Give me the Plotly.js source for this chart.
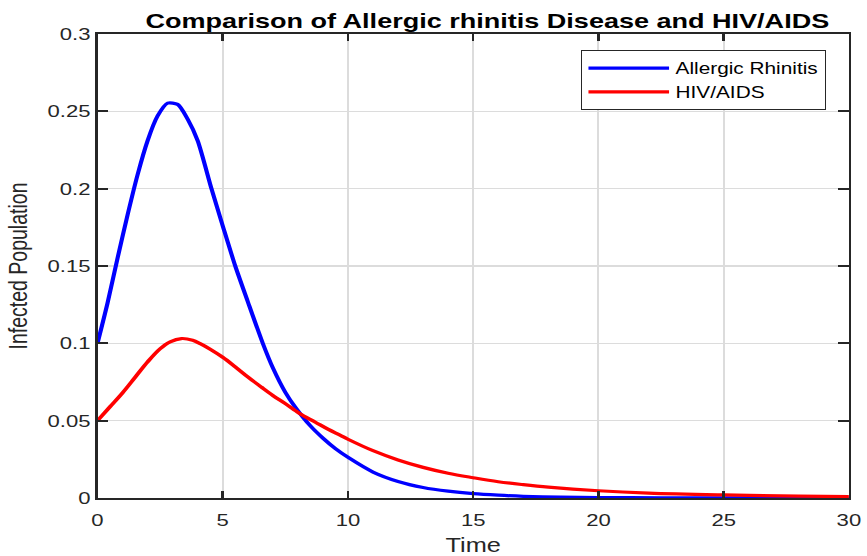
<!DOCTYPE html>
<html>
<head>
<meta charset="utf-8">
<script src="https://cdn.plot.ly/plotly-3.0.1.min.js"></script>
<style>
html, body { margin: 0; padding: 0; background: #ffffff; overflow: hidden; }
#wrap { width: 867px; height: 556px; overflow: hidden; position: relative; }
#chart { width: 667px; height: 556px; transform: scaleX(1.3); transform-origin: 0 0; }
</style>
</head>
<body>
<div id="wrap"><div id="chart"></div></div>
<script>
// Allergic Rhinitis
const blueT = [0, 0.4, 0.8, 1.2, 1.6, 2.0, 2.4, 2.8, 3.2, 3.6, 4.0, 4.55, 5.0, 5.5, 6.0, 6.6, 7.0, 7.5, 7.9, 8.5, 9, 9.5, 10, 11, 12, 13, 14, 15, 16, 17, 18.5, 20, 22.5, 25, 30];
const blueY = [0.1, 0.126, 0.155, 0.183, 0.209, 0.231, 0.247, 0.2553, 0.2545, 0.245, 0.231, 0.2, 0.176, 0.15, 0.127, 0.1, 0.0842, 0.0683, 0.0586, 0.0466, 0.0387, 0.0319, 0.0263, 0.0168, 0.0107, 0.0068, 0.0044, 0.0028, 0.0018, 0.0011, 0.0006, 0.0003, 0.00012, 0.00005, 0];
// HIV/AIDS
const redT = [0, 0.5, 1.0, 1.5, 2.0, 2.5, 2.9, 3.35, 3.8, 4.1, 4.5, 5, 5.5, 6, 6.55, 7, 7.5, 7.9, 8.1, 8.7, 9.2, 9.7, 10, 11, 12, 13, 14, 15, 16, 17, 18, 20, 22, 25, 28, 30];
const redY = [0.05, 0.059, 0.068, 0.078, 0.088, 0.0965, 0.101, 0.1031, 0.102, 0.0998, 0.0962, 0.091, 0.0848, 0.0783, 0.0716, 0.0663, 0.061, 0.0565, 0.0543, 0.049, 0.0445, 0.0405, 0.038, 0.0306, 0.0246, 0.0198, 0.016, 0.0131, 0.0105, 0.0086, 0.007, 0.0047, 0.0032, 0.002, 0.0012, 0.0009];

const seriesNames = ['Allergic Rhinitis', 'HIV/AIDS'];
const xTickVals = [0, 5, 10, 15, 20, 25, 30];
const xTickText = ['0', '5', '10', '15', '20', '25', '30'];
const yTickVals = [0, 0.05, 0.1, 0.15, 0.2, 0.25, 0.3];
const yTickText = ['0', '0.05', '0.1', '0.15', '0.2', '0.25', '0.3'];

const FONT = '"Liberation Sans", Arial, Helvetica, sans-serif';
const AX = '#262626';

const traces = [
  { x: blueT, y: blueY, name: seriesNames[0], type: 'scatter', mode: 'lines',
    line: { color: '#0000ff', width: 3.2, shape: 'spline', smoothing: 0.7 } },
  { x: redT, y: redY, name: seriesNames[1], type: 'scatter', mode: 'lines',
    line: { color: '#ff0000', width: 3.2, shape: 'spline', smoothing: 1 } }
];

const layout = {
  width: 667, height: 556,
  margin: { l: 75, r: 14, t: 34, b: 58 },
  paper_bgcolor: '#ffffff', plot_bgcolor: '#ffffff',
  showlegend: true,
  title: { text: '<b>Comparison of Allergic rhinitis Disease and HIV/AIDS</b>',
    font: { family: FONT, size: 20.8, color: '#000000' },
    x: 0.562, xanchor: 'center', y: 0.963, yanchor: 'middle' },
  xaxis: {
    range: [0, 30], tickvals: xTickVals, ticktext: xTickText,
    ticks: 'inside', ticklen: 7, tickwidth: 2, tickcolor: AX,
    showline: true, linecolor: AX, linewidth: 2, mirror: 'ticks',
    showgrid: true, gridcolor: '#dcdcdc', gridwidth: 1.6, zeroline: false,
    ticklabelstandoff: 6,
    tickfont: { family: FONT, size: 17, color: AX },
    title: { text: 'Time', font: { family: FONT, size: 19.5, color: AX }, standoff: 10 }
  },
  yaxis: {
    range: [0, 0.3], tickvals: yTickVals, ticktext: yTickText,
    ticks: 'inside', ticklen: 8, tickwidth: 2, tickcolor: AX,
    showline: true, linecolor: AX, linewidth: 2, mirror: 'ticks',
    showgrid: true, gridcolor: '#dcdcdc', gridwidth: 1.6, zeroline: false,
    tickfont: { family: FONT, size: 17, color: AX },
    title: { text: 'Infected Population', font: { family: FONT, size: 19.5, color: AX }, standoff: 10 }
  },
  legend: {
    x: 0.970, xanchor: 'right', y: 0.965, yanchor: 'top',
    bgcolor: '#ffffff', bordercolor: AX, borderwidth: 1,
    font: { family: FONT, size: 16, color: '#000000' },
    itemwidth: 62, tracegroupgap: 0
  }
};

Plotly.newPlot('chart', traces, layout, { displayModeBar: false, staticPlot: true });
</script>
</body>
</html>
